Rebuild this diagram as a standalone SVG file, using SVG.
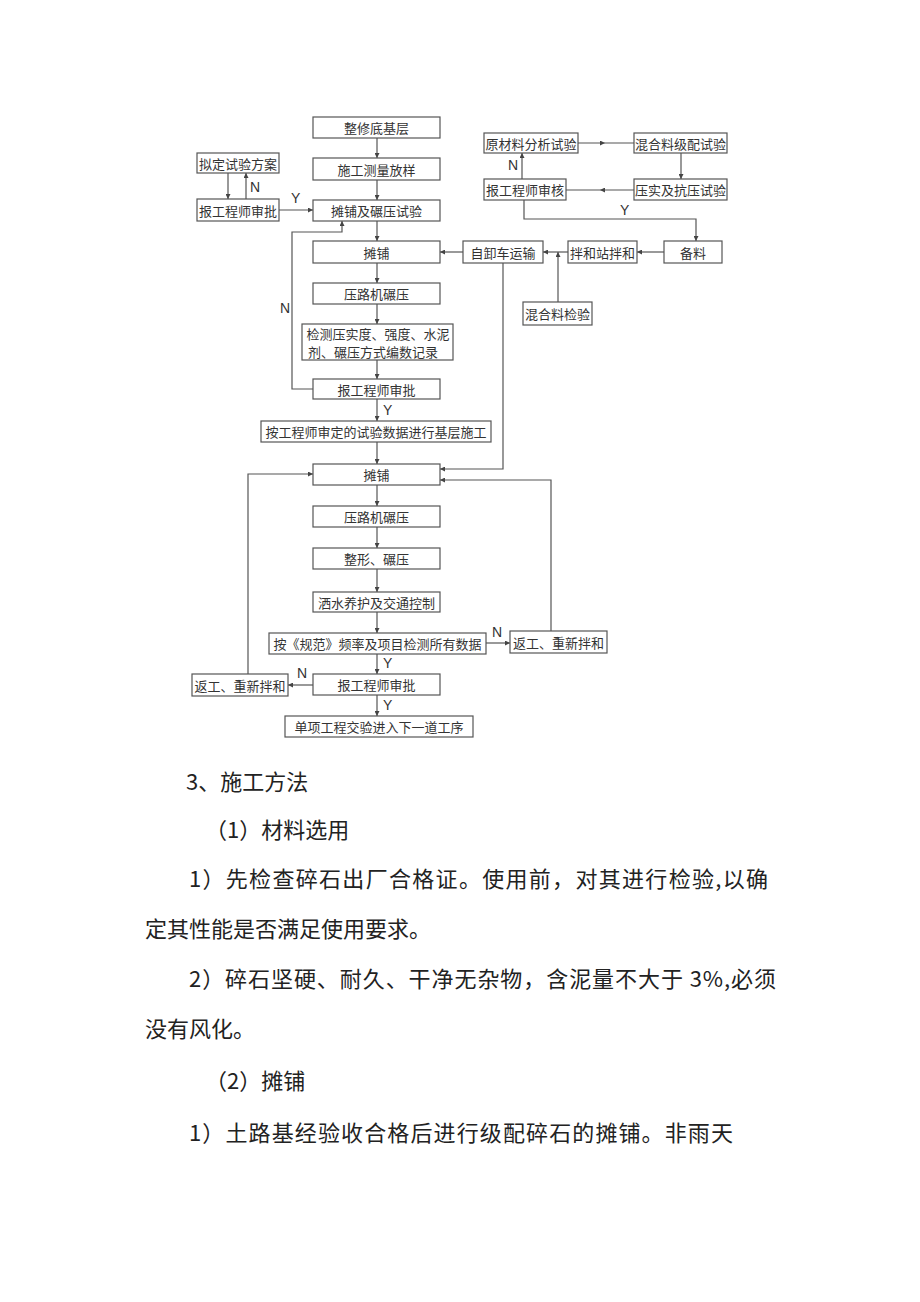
<svg xmlns="http://www.w3.org/2000/svg" width="920" height="1302" viewBox="0 0 920 1302">
<defs>
<style>
.b{fill:#fff;stroke:#555;stroke-width:1.2}
.t{font-family:"Noto Sans CJK SC",sans-serif;font-size:13px;fill:#333;text-anchor:middle;dominant-baseline:central}
.c{fill:none;stroke:#555;stroke-width:1.2}
.a{marker-end:url(#ar)}
.m{marker-mid:url(#ar)}
.l{font-family:"Liberation Sans",Arial,sans-serif;font-size:14px;fill:#333}
.p{font-family:"Noto Sans CJK SC",sans-serif;font-size:22px;fill:#222}
</style>
<marker id="ar" viewBox="0 0 10 10" refX="10" refY="5" markerWidth="6" markerHeight="5" markerUnits="userSpaceOnUse" orient="auto">
<path d="M0,0 L10,5 L0,10 z" fill="#444"/>
</marker>
</defs>
<rect width="920" height="1302" fill="#fff"/>

<g id="connectors">
<path class="c a" d="M377,138 V158"/>
<path class="c a" d="M377,180 V200"/>
<path class="c a" d="M377,221 V241"/>
<path class="c a" d="M377,263 V283"/>
<path class="c a" d="M377,304 V324"/>
<path class="c a" d="M377,360 V379"/>
<path class="c a" d="M377,399 V421"/>
<path class="c a" d="M377,442 V464"/>
<path class="c a" d="M377,485 V506"/>
<path class="c a" d="M377,527 V548"/>
<path class="c a" d="M377,569 V592"/>
<path class="c a" d="M377,612 V633"/>
<path class="c a" d="M377,654 V674"/>
<path class="c a" d="M377,695 V716"/>
<path class="c a" d="M486,643 H510"/>
<path class="c a" d="M313,685 H288"/>
<path class="c a" d="M248,674 V474 H313"/>
<path class="c a" d="M551,631 V480 H440"/>
<path class="c a" d="M503,263 V469 H440"/>
<path class="c a" d="M313,389 H292 V232 H342 V221"/>
<path class="c a" d="M228,173 V199"/>
<path class="c a" d="M246,199 V173"/>
<path class="c a" d="M279,210 H313"/>
<path class="c a" d="M463,252 H440"/>
<path class="c a" d="M568,252 H543"/>
<path class="c a" d="M664,252 H637"/>
<path class="c a" d="M558,302 V252"/>
<path class="c m" d="M578,143 L605,143 L634,143"/>
<path class="c a" d="M681,153 V179"/>
<path class="c m" d="M634,190 L600,190 L566,190"/>
<path class="c a" d="M522,179 V153"/>
<path class="c a" d="M524,200 V219 H696 V241"/>
<text class="l" x="250" y="192">N</text>
<text class="l" x="291" y="203">Y</text>
<text class="l" x="280" y="313">N</text>
<text class="l" x="383" y="415">Y</text>
<text class="l" x="508" y="170">N</text>
<text class="l" x="620" y="215">Y</text>
<text class="l" x="492" y="637">N</text>
<text class="l" x="383" y="668">Y</text>
<text class="l" x="297" y="678">N</text>
<text class="l" x="383" y="710">Y</text>
</g>

<g id="n1"><rect class="b" x="313" y="117" width="127" height="21"/><text class="t" x="376.5" y="127.5">整修底基层</text></g>
<g id="n2"><rect class="b" x="313" y="158" width="127" height="22"/><text class="t" x="376.5" y="169">施工测量放样</text></g>
<g id="n3"><rect class="b" x="313" y="200" width="127" height="21"/><text class="t" x="376.5" y="210.5">摊铺及碾压试验</text></g>
<g id="n4"><rect class="b" x="313" y="241" width="127" height="22"/><text class="t" x="376.5" y="252">摊铺</text></g>
<g id="n5"><rect class="b" x="313" y="283" width="127" height="21"/><text class="t" x="376.5" y="293.5">压路机碾压</text></g>
<g id="n6"><rect class="b" x="302" y="324" width="151" height="36"/><text class="t" x="378" y="333.5">检测压实度、强度、水泥</text><text class="t" x="373" y="351.5">剂、碾压方式编数记录</text></g>
<g id="n7"><rect class="b" x="313" y="379" width="127" height="20"/><text class="t" x="376.5" y="389">报工程师审批</text></g>
<g id="n8"><rect class="b" x="261" y="421" width="230" height="21"/><text class="t" x="376" y="431.5">按工程师审定的试验数据进行基层施工</text></g>
<g id="n9"><rect class="b" x="313" y="464" width="127" height="21"/><text class="t" x="376.5" y="474.5">摊铺</text></g>
<g id="n10"><rect class="b" x="313" y="506" width="127" height="21"/><text class="t" x="376.5" y="516.5">压路机碾压</text></g>
<g id="n11"><rect class="b" x="313" y="548" width="127" height="21"/><text class="t" x="376.5" y="558.5">整形、碾压</text></g>
<g id="n12"><rect class="b" x="313" y="592" width="127" height="20"/><text class="t" x="376.5" y="602">洒水养护及交通控制</text></g>
<g id="n13"><rect class="b" x="269" y="633" width="217" height="21"/><text class="t" x="377.5" y="643.5">按《规范》频率及项目检测所有数据</text></g>
<g id="n14"><rect class="b" x="510" y="631" width="97" height="22"/><text class="t" x="558.5" y="642">返工、重新拌和</text></g>
<g id="n15"><rect class="b" x="313" y="674" width="127" height="21"/><text class="t" x="376.5" y="684.5">报工程师审批</text></g>
<g id="n16"><rect class="b" x="192" y="674" width="96" height="22"/><text class="t" x="240" y="685">返工、重新拌和</text></g>
<g id="n17"><rect class="b" x="285" y="716" width="188" height="21"/><text class="t" x="379" y="726.5">单项工程交验进入下一道工序</text></g>
<g id="n18"><rect class="b" x="197" y="153" width="82" height="20"/><text class="t" x="238" y="163">拟定试验方案</text></g>
<g id="n19"><rect class="b" x="197" y="199" width="82" height="22"/><text class="t" x="238" y="210">报工程师审批</text></g>
<g id="n20"><rect class="b" x="484" y="133" width="94" height="20"/><text class="t" x="531" y="143">原材料分析试验</text></g>
<g id="n21"><rect class="b" x="634" y="133" width="93" height="20"/><text class="t" x="680.5" y="143">混合料级配试验</text></g>
<g id="n22"><rect class="b" x="484" y="179" width="82" height="21"/><text class="t" x="525" y="189.5">报工程师审核</text></g>
<g id="n23"><rect class="b" x="634" y="179" width="93" height="21"/><text class="t" x="680.5" y="189.5">压实及抗压试验</text></g>
<g id="n24"><rect class="b" x="664" y="241" width="58" height="22"/><text class="t" x="693" y="252">备料</text></g>
<g id="n25"><rect class="b" x="568" y="241" width="69" height="22"/><text class="t" x="602.5" y="252">拌和站拌和</text></g>
<g id="n26"><rect class="b" x="463" y="241" width="80" height="22"/><text class="t" x="503" y="252">自卸车运输</text></g>
<g id="n27"><rect class="b" x="523" y="302" width="69" height="23"/><text class="t" x="557.5" y="313.5">混合料检验</text></g>

<g id="body-text">
<text class="p" x="186" y="790">3、施工方法</text>
<text class="p" x="205" y="837.5">（1）材料选用</text>
<text class="p" x="189" y="887" textLength="579" lengthAdjust="spacing">1）先检查碎石出厂合格证。使用前，对其进行检验,以确</text>
<text class="p" x="145" y="937">定其性能是否满足使用要求。</text>
<text class="p" x="189" y="987" textLength="587" lengthAdjust="spacing">2）碎石坚硬、耐久、干净无杂物，含泥量不大于 3%,必须</text>
<text class="p" x="145" y="1037">没有风化。</text>
<text class="p" x="205" y="1088.5">（2）摊铺</text>
<text class="p" x="189" y="1140.5" textLength="544" lengthAdjust="spacing">1）土路基经验收合格后进行级配碎石的摊铺。非雨天</text>
</g>
</svg>
